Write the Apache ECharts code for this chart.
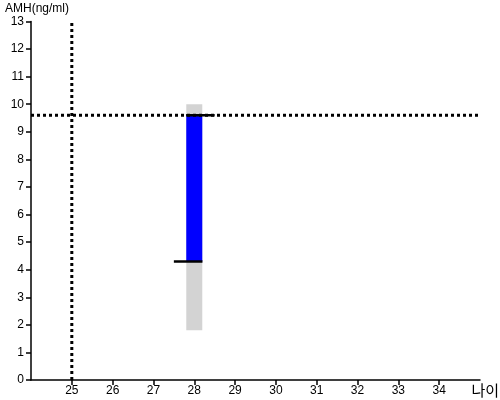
<!DOCTYPE html>
<html><head><meta charset="utf-8">
<script src="https://cdn.jsdelivr.net/npm/echarts@6/dist/echarts.min.js"></script>
<style>html,body{margin:0;padding:0;background:#fff}#c{width:500px;height:400px}</style>
</head><body><div id="c"></div>
<script>
const ages = [28];
const rangeLow = [1.8];
const rangeHigh = [10.0];
const amhLow = [4.3];
const amhHigh = [9.6];
const refAge = 25;
const refAmh = 9.6;
const lowMarkX = [27.5, 28.2];
const highMarkX = [27.8, 28.5];
const xTicks = [25,26,27,28,29,30,31,32,33,34];

const chart = echarts.init(document.getElementById('c'), null, {renderer:'canvas'});
const font = 'Liberation Sans, Arial, sans-serif';
function rectItem(color){
  return function(params, api){
    const x = api.value(0);
    const p0 = api.coord([x, api.value(1)]);
    const p1 = api.coord([x, api.value(2)]);
    const w = 16;
    return {type:'rect', shape:{x:p0[0]-w/2, y:p1[1], width:w, height:p0[1]-p1[1]}, style:{fill:color}};
  };
}
chart.setOption({
  animation:false,
  grid:{left:31, right:20, top:21.5, bottom:20},
  xAxis:{type:'value', min:24, max:35, interval:1,
    axisLine:{lineStyle:{color:'#000', width:1.5}},
    axisTick:{show:true, length:5, lineStyle:{color:'#000', width:1.5},
      customValues: xTicks},
    axisLabel:{color:'#000', fontFamily:font, fontSize:12, margin:5,
      customValues: xTicks},
    splitLine:{show:false}},
  yAxis:{type:'value', min:0, max:13, interval:1,
    axisLine:{show:true, lineStyle:{color:'#000', width:1.5}},
    axisTick:{show:true, length:5, lineStyle:{color:'#000', width:1.5}},
    axisLabel:{color:'#000', fontFamily:font, fontSize:12, margin:7},
    splitLine:{show:false}},
  graphic:[
    {type:'text', left:5, top:3, style:{text:'AMH(ng/ml)', font:'12px '+font, fill:'#000'}},
    {type:'text', right:1, top:383, style:{text:'나이', font:'15px "Noto Sans CJK KR", sans-serif', fill:'#000'}}
  ],
  series:[
    {type:'custom', renderItem:rectItem('#d3d3d3'), data: ages.map((a,i)=>[a, rangeLow[i], rangeHigh[i]]), z:1},
    {type:'custom', renderItem:rectItem('#0000ff'), data: ages.map((a,i)=>[a, amhLow[i], amhHigh[i]]), z:2},
    {type:'line', data:[[24, refAmh],[35, refAmh]], symbol:'none', lineStyle:{color:'#000', width:3, type:[3,3]}, z:3},
    {type:'line', data:[[refAge, 0],[refAge, 13]], symbol:'none', lineStyle:{color:'#000', width:3, type:[3,3]}, z:3},
    {type:'line', data:lowMarkX.map(x=>[x, amhLow[0]]), symbol:'none', lineStyle:{color:'#000', width:2.5}, z:4},
    {type:'line', data:highMarkX.map(x=>[x, amhHigh[0]]), symbol:'none', lineStyle:{color:'#000', width:2.5}, z:4}
  ]
});
</script></body></html>
